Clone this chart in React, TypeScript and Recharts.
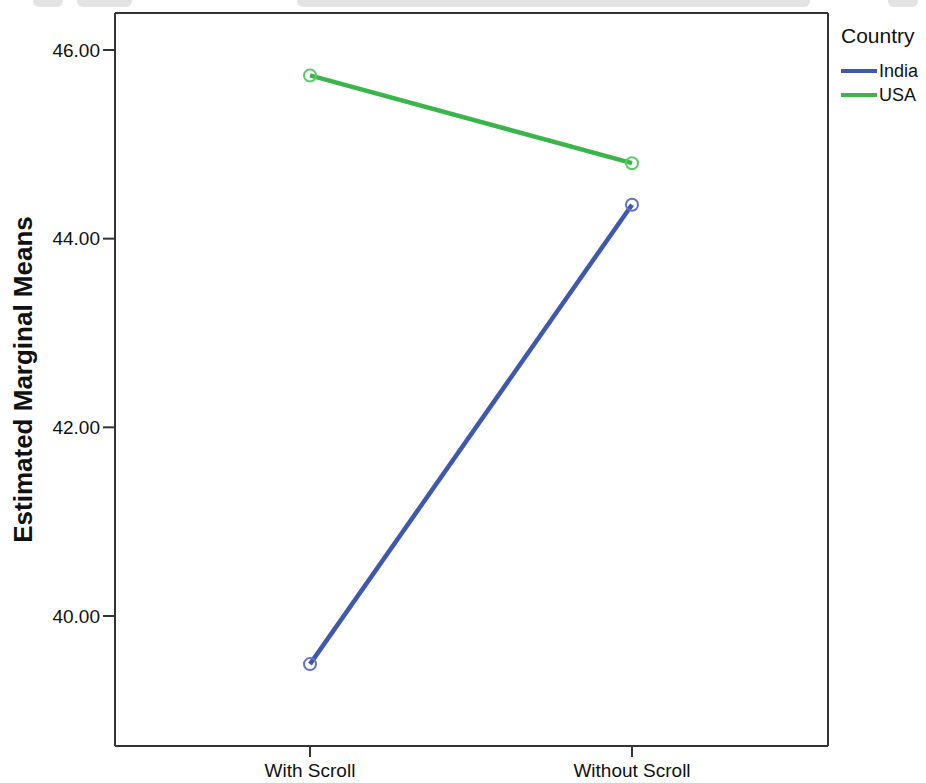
import { LineChart, Line, XAxis, YAxis, Legend, CartesianGrid } from 'recharts';

const conditions = ['With Scroll', 'Without Scroll'];
const india = [39.49, 44.36];
const usa = [45.73, 44.8];
const yTicks = [40, 42, 44, 46];
const yDomain = [38.622, 46.392];

const data = conditions.map((c, i) => ({ condition: c, India: india[i], USA: usa[i] }));

const FONT = '"Liberation Sans", Arial, sans-serif';
const AXIS = '#333';

// the light grey strip along the top edge of the screenshot
const topStrip = [
  [33, 30],
  [77, 55],
  [297, 513],
  [888, 30],
];

const YLabel = (props: any) => {
  const vb = props.viewBox;
  const cx = 23;
  const cy = vb.y + vb.height / 2;
  return (
    <text
      x={cx}
      y={cy}
      transform={`rotate(-90 ${cx} ${cy})`}
      textAnchor="middle"
      dominantBaseline="central"
      fontFamily={FONT}
      fontWeight="bold"
      fontSize={26}
      fill="#111"
    >
      Estimated Marginal Means
    </text>
  );
};

const renderLegend = (props: any) => (
  <div style={{ fontFamily: FONT, color: '#111' }}>
    <div style={{ fontSize: 21, lineHeight: '24px', marginBottom: 11 }}>Country</div>
    {props.payload.map((p: any) => (
      <div key={p.value} style={{ display: 'flex', alignItems: 'center', height: 24 }}>
        <span style={{ display: 'inline-block', width: 36, height: 4, background: p.color }} />
        <span style={{ fontSize: 18, marginLeft: 2 }}>{p.value}</span>
      </div>
    ))}
  </div>
);

export default function App() {
  return (
    <div style={{ position: 'absolute', left: 0, top: 0, width: 926, height: 783, background: '#fff' }}>
      {topStrip.map(([x, w], i) => (
        <div
          key={i}
          style={{ position: 'absolute', left: x, top: 0, width: w, height: 7, background: '#e3e3e3', borderRadius: '0 0 6px 6px' }}
        />
      ))}
      <LineChart width={926} height={783} data={data} margin={{ top: 13, right: 98, bottom: 0, left: 0 }}>
        {/* top and right edges of the plot frame */}
        <CartesianGrid
          stroke={AXIS}
          strokeWidth={2}
          horizontalCoordinatesGenerator={({ offset }: any) => [offset.top]}
          verticalCoordinatesGenerator={({ offset }: any) => [offset.left + offset.width]}
        />
        <XAxis
          dataKey="condition"
          height={37}
          padding={{ left: 195, right: 196 }}
          tickSize={11}
          tickMargin={7}
          tick={{ fontFamily: FONT, fontSize: 19, fill: '#111' }}
          axisLine={{ stroke: AXIS, strokeWidth: 2 }}
          tickLine={{ stroke: AXIS, strokeWidth: 2 }}
        />
        <YAxis
          width={115}
          domain={yDomain}
          ticks={yTicks}
          tickFormatter={(v: number) => v.toFixed(2)}
          tickSize={12}
          tickMargin={3}
          tick={{ fontFamily: FONT, fontSize: 19, fill: '#111' }}
          axisLine={{ stroke: AXIS, strokeWidth: 2 }}
          tickLine={{ stroke: AXIS, strokeWidth: 2 }}
          label={<YLabel />}
          allowDataOverflow
        />
        <Legend
          layout="vertical"
          align="center"
          verticalAlign="middle"
          wrapperStyle={{ left: 841, top: 24, width: 85 }}
          content={renderLegend}
        />
        <Line
          dataKey="India"
          stroke="#3e58ac"
          strokeWidth={4.5}
          dot={{ r: 6, fill: 'none', stroke: '#5f74c2', strokeWidth: 2 }}
          isAnimationActive={false}
        />
        <Line
          dataKey="USA"
          stroke="#3ab54a"
          strokeWidth={4.5}
          dot={{ r: 6, fill: 'none', stroke: '#5cc86a', strokeWidth: 2 }}
          isAnimationActive={false}
        />
      </LineChart>
    </div>
  );
}
